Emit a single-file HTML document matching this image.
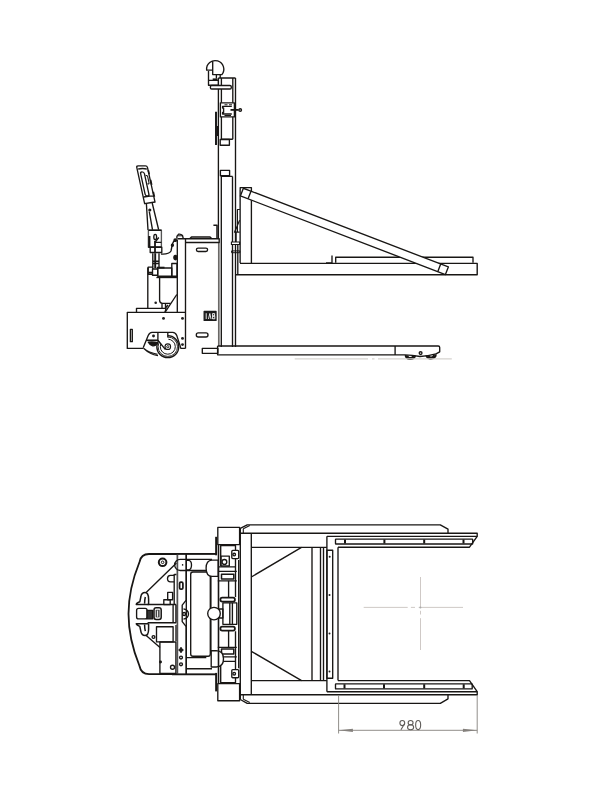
<!DOCTYPE html>
<html><head><meta charset="utf-8">
<style>
html,body{margin:0;padding:0;background:#fff;}
body{width:612px;height:792px;overflow:hidden;}
svg{display:block;}
</style></head>
<body>
<svg width="612" height="792" viewBox="0 0 612 792">
<rect width="612" height="792" fill="#fff"/>
<g fill="none" stroke="#181614" stroke-width="1.35" stroke-linejoin="round" stroke-linecap="butt">
<!-- ===== TOP DRAWING ===== -->
<!-- mast outer -->
<path d="M218.4,78 V238.7 M235.5,78 V347 M218.4,78 H235.5"/>
<path d="M218.8,242.5 V346" stroke="#6a6866" stroke-width="1.7"/>
<!-- upper inner tube -->
<path d="M221.4,78 V139.2 M232.8,78 V139.2 M221.4,139.2 H232.8"/>
<rect x="220.2" y="139.5" width="9.2" height="5.7"/>
<rect x="220.4" y="170.4" width="9.2" height="5.4"/>
<path d="M220.8,176.4 H232.6 M221.3,176.4 V347 M232.5,176.4 V347"/>
<!-- head knob -->
<path d="M212.7,61 V74.6 H221.9 A8.6,8.6 0 1 0 206.65,70.1 H212.7"/>
<path d="M208.5,71 V80.3 M216.4,74.6 V78.5 M220.2,74.6 V78"/>
<path d="M212.7,79.5 H217.5" stroke-width="2.2"/>
<rect x="208.5" y="80.3" width="9.8" height="4.9" fill="#fff"/>
<rect x="210.4" y="85.5" width="20.9" height="3.5" rx="1.3" fill="#fff"/>
<!-- carriage box on mast -->
<rect x="220.4" y="102.8" width="14" height="14.1" fill="#fff"/>
<path d="M231.8,106.4 H222.6 V108 H223.6 V112.5 H222.6 V114 H231.8"/>
<path d="M224.5,104.8 H227.5 M229,104.8 H232 M224.5,115.5 H231" stroke-width="1"/>
<path d="M230.5,109.9 H238.6" stroke-width="1.8"/>
<circle cx="240.2" cy="110" r="1.3"/>
<path d="M216,111.8 V145" stroke-width="1.9" stroke="#111"/>
<path d="M217.5,126 V136"/>
<!-- backrest -->
<path d="M240.2,263 V187.6 H251.4 V263.6"/>
<path d="M240.4,190 V263" stroke-width="1.2" stroke="#444"/>
<path d="M237.8,242 V275"/>
<path d="M237.4,232.2 V209.5 H239.9 M239.6,220.2 L234.5,232.2 H239.6 M236.1,232.2 V242" stroke-width="1.2"/>
<rect x="231.4" y="242" width="8.2" height="2.5" stroke-width="1.1" fill="#fff"/>
<rect x="231.6" y="250.9" width="8.2" height="1.8" stroke-width="1"/>
<!-- fork + plate -->
<path d="M240,263.4 H477.2 V274.8 H236" stroke-width="1.4"/>
<path d="M326,262.8 H332 V255.6 M335.7,262.8 V257.2 H473 V262.8"/>
<!-- diagonal bar -->
<path d="M243.35,188.25 L448.35,266.95 L445.4,274.6 L240.4,195.9 Z" fill="#fff"/>
<path d="M251,191.2 L248.05,198.85 M440.7,264 L437.75,271.65"/>
<!-- battery box -->
<path d="M185.5,348.4 V238.7 M177.5,238.7 H219.2 V242.5 H185.5"/>
<path d="M190,238.5 L191.5,236.9 H210 L211.5,238.5" stroke-width="1.5"/>
<path d="M213.4,225.2 H217 V238.7" stroke-width="1.5"/>
<rect x="196.4" y="248.1" width="11.2" height="3.4" rx="1.7"/>
<rect x="196.3" y="332.9" width="11.7" height="4.1" rx="2"/>
<rect x="204.2" y="311.3" width="11.8" height="9.1" fill="#1c1c1c" stroke="#1c1c1c"/>
<path d="M206.2,313.2 V319 M208.5,319 L209.8,313.5 L211,319 M212.6,313.5 V319 M212.6,313.6 H214.6 V316 H212.6 M212.6,316.2 H214.8 V318.8 H212.6" stroke="#fff" stroke-width="0.9"/>
<rect x="202.3" y="348.4" width="15.6" height="4.9"/>
<!-- fork leg -->
<path d="M217.6,346 H438.2 Q439.7,346 439.7,347.5 V351.8 L436,353.8 M217.6,346 V354.8 H405 M395.1,346 V354.8"/>
<path d="M405,354.8 Q412,355 420,356.5 Q428,355.8 436,353.8"/>
<path d="M405.6,355 A4.8,3.9 0 0 0 415.2,355.6 M407.5,355.3 A2.9,2.4 0 0 0 413.3,355.7 M426.2,355.3 A4.8,3.9 0 0 0 435.8,354.3 M428.1,355.3 A2.9,2.4 0 0 0 433.9,354.5" stroke-width="1.8"/>
<circle cx="420.6" cy="353.1" r="1.4"/>
<path d="M294.7,358.8 H368 M372,358.8 H374.5 M378,358.8 H451.8" stroke="#d6d3d0"/>
<!-- chassis -->
<path d="M185.5,312.3 H127.3 V348.4 H143.3 M180.8,348.4 H185.5"/>
<path d="M136.5,312.3 V308.3 H166 L165,312.3"/>
<path d="M165,312.3 L176.8,294.5"/>
<rect x="130.4" y="329.4" width="1.9" height="12.3"/>
<path d="M147.8,267.5 V308.3 M177.3,239.4 V312.3"/>
<path d="M159.6,277.8 V300.3 Q159.6,303.3 162.6,303.3 H170.6"/>
<path d="M162,303.3 V308 M165.5,303.3 V308 L168,305"/>
<rect x="148.2" y="267.1" width="4.6" height="7.1"/>
<path d="M148.2,272.6 H152.5" stroke-width="1.8"/>
<rect x="152.5" y="269" width="5.2" height="6.2" fill="#fff"/>
<rect x="157.7" y="268" width="14.1" height="8.2"/>
<path d="M156.7,267.6 H164.5" stroke-width="1.8"/>
<rect x="171.8" y="263.5" width="5.2" height="12.7"/>
<path d="M156.4,277.5 H177"/>
<ellipse cx="175.4" cy="257.6" rx="1.5" ry="2.1" fill="#181614"/>
<!-- caster wheel -->
<path d="M142.9,347.6 Q149,352.8 157.6,354.2 M143.8,348.6 Q149.5,354.2 158,355.6" stroke-width="1.1"/>
<path d="M146.1,340.25 H158.6" stroke-width="1.6"/>
<path d="M148.3,342.2 Q153,341.6 157.8,342.6 Q155.5,346.2 152.7,345.8 Q150,345.2 148.3,342.2 Z" fill="#181614"/>
<circle cx="167.8" cy="346.7" r="11" stroke-width="1.3" fill="#fff"/>
<circle cx="167.8" cy="346.7" r="9.7" stroke-width="0.9"/>
<circle cx="167.8" cy="346.7" r="7.5" stroke-width="1"/>
<path d="M157.6,332.35 H167.8 V337.5 L169.5,343 L165,349 L157.6,339 Z" fill="#fff" stroke="none"/>
<path d="M157.9,332.35 V340.25 L165.5,349.6 M167.8,332.35 V337.5"/>
<circle cx="167.8" cy="346.7" r="2.8" stroke-width="1.1" fill="#fff"/>
<circle cx="167.8" cy="346.7" r="1.1" stroke-width="0.9"/>
<path d="M143.3,347.5 L148.2,335.6 Q149.5,332.35 152,332.35 H172.7 Q175.5,332.35 176.8,335.6 L180,345.4 L180.8,348.7"/>
<!-- handle -->
<g transform="translate(141.7,165.8) skewX(12.3)">
<path d="M-5.3,1.8 Q-5.3,0 -3.5,0 H3.8 Q5.4,0 5.4,1.8 V36.2 L-5.3,37.9 Z"/>
<path d="M-4.3,3.3 Q0,2.2 4.4,3.2"/>
<path d="M-2.8,8 Q-2.8,6 -0.9,6 Q1,6 1,8 V28.5 Q1,30.3 -0.9,30.3 Q-2.8,30.3 -2.8,28.5 Z"/>
<path d="M1.8,10 Q3.5,9 3.6,11 V17 Q3.5,18.5 1.8,18" stroke-width="1.1"/>
<path d="M5.6,4.5 V8.5 M5.8,14 V19 M5.9,26 V31" stroke-width="1.7"/>
<path d="M-5,31.2 L1.5,30.3 H5.4"/>
</g>
<path d="M146.4,203.8 L148,230 M152.2,203 L158.7,230 M149.3,211.6 L152.6,230.4"/>
<circle cx="149.8" cy="210" r="0.9" fill="#1e1e1e"/>
<rect x="148.4" y="230.2" width="13" height="17" stroke="#555"/>
<path d="M148.4,230.2 H161.4 M148.4,247.2 H161.4"/>
<path d="M149.3,236 V247" stroke-width="2.2"/>
<ellipse cx="155.2" cy="237" rx="1.4" ry="2.7"/>
<path d="M158.8,237.5 L154.8,242.5 M155,242.3 H161.4"/>
<path d="M155,241 V253.3" stroke-width="1.8"/>
<rect x="150.2" y="247.2" width="11.6" height="5.3"/>
<path d="M152.8,253.3 V267.1 M159,253.3 V268 M152.3,261.2 H159.5 M152.3,263.5 H159.5"/>
<path d="M155.2,253.3 V268" stroke-width="1.9"/>
<path d="M161,254 Q169,254.5 171,251 L172.4,244 Q173,241 176,239.8"/>
<circle cx="175.2" cy="240.2" r="1.2" fill="#1e1e1e"/>
<circle cx="172.4" cy="245.2" r="1" fill="#1e1e1e"/>
<path d="M176.8,238.7 Q176.5,235.5 178.5,234.2 Q181,233.8 182.5,235.5 L183.3,238.7"/>
<path d="M177.5,235.8 H182" stroke-width="1"/>
<!-- dots -->
<g fill="#1e1e1e" stroke="none">
<circle cx="155.7" cy="302.8" r="1.3"/>
<circle cx="163.5" cy="318.4" r="1.45"/>
<circle cx="182.5" cy="318.4" r="1.45"/>
<circle cx="153.5" cy="336" r="1.45"/>
<circle cx="182.5" cy="338.4" r="1.45"/>
<circle cx="182.5" cy="344.6" r="1.45"/>
</g>
<!-- ===== BOTTOM DRAWING ===== -->
<!-- shell -->
<path d="M177.5,554 H149 Q141,554 139.5,562 C133,578 128.5,596 128.5,613.8 C128.5,632 133,650 139.5,666 Q141,674 149,674.2 H177.5" stroke-width="1.8"/>
<path d="M177.5,553.3 V674.3 M186.3,554 V674.3 M177.5,554.1 H216.4 M177.5,674.1 H216.4"/>
<path d="M176.5,563 L145.6,593 M145.6,635 L160,647.5"/>
<circle cx="162.6" cy="562.3" r="3.8" stroke-width="2"/>
<circle cx="162.6" cy="562.3" r="1.3" stroke-width="1"/>
<!-- control piece -->
<path d="M147.6,604.5 H176 M147.6,622.8 H176 M176,604.5 V622.8" stroke-width="1.5"/>
<rect x="156.5" y="626.7" width="16.6" height="15.2"/>
<rect x="159.9" y="642" width="16" height="31.5"/>
<rect x="167.7" y="592.4" width="4.9" height="7.3"/>
<rect x="163.8" y="599.7" width="6.4" height="4.9"/>
<path d="M148.6,604.5 V599 Q148.5,592.6 145,592.6 Q141.5,592.6 140.8,597 L139.8,601.8 Q136.5,603 136.3,604.5 H148.6 M145.3,597 Q144.6,600 144.6,603.5" stroke-width="1.5"/>
<path d="M148.6,623.7 V629.2 Q148.5,635.6 145,635.6 Q141.5,635.6 140.8,631.2 L139.8,626.4 Q136.5,625.2 136.3,623.7 H148.6 M145.3,631.2 Q144.6,628.2 144.6,624.7" stroke-width="1.5"/>
<rect x="136.6" y="608.4" width="10.5" height="10.5" rx="2"/>
<rect x="147.1" y="610.3" width="5.6" height="8.6" fill="#333"/>
<rect x="154" y="607.7" width="7.2" height="11.8" rx="2.2" stroke-width="1.5"/>
<rect x="155.6" y="609.8" width="4" height="7.6" fill="#444" stroke="none"/>
<path d="M157.6,610.5 V616.8" stroke="#fff" stroke-width="1"/>
<path d="M173.1,605 V622.7"/>
<circle cx="153.5" cy="637" r="1.4"/>
<circle cx="172.5" cy="667.2" r="2"/>
<circle cx="160.5" cy="662" r="0.8"/>
<path d="M183.5,609 A5,5 0 0 1 183.5,619"/>
<circle cx="184.1" cy="614" r="1.5"/>
<rect x="179.6" y="582.2" width="3.3" height="7" rx="1.3" stroke-width="1.7"/>
<circle cx="181" cy="650" r="1.3"/>
<path d="M178.5,650 H183.5 M181,647 V653"/>
<circle cx="181" cy="657.5" r="1.45"/>
<circle cx="181" cy="664.3" r="1.45"/>
<path d="M174.2,574 V605 M176,625 V641"/>
<path d="M176.5,574.5 H174.2 M174.2,575.4 H170.5 Q167.5,575.5 167.5,578.5 Q167.5,581.8 170.5,581.8 H174.2"/>
<!-- rounded bars / mechanism (mirrored) -->
<path d="M177.3,553.3 V674.3" stroke="#555" stroke-width="1.3"/>
<path d="M186.2,554 V600.1 L182.2,605.2 V621.6 L186.2,626.6 V674.3"/>
<rect x="190.7" y="572" width="19.6" height="84.2" rx="2.2"/>
<path d="M210.9,574 V654"/>
<g>
<path d="M172,553.7 H216.1"/>
<path d="M212,559.4 H186.2 M186.2,570.5 H206.3"/>
<rect x="217.8" y="527.4" width="21.8" height="17.2"/>
<path d="M216.1,536.8 V555.3" stroke-width="1.9"/>
<path d="M220.7,566 V545.5 H235.5 V550.4"/>
<rect x="231.8" y="550.4" width="6.9" height="8.2" rx="1"/>
<circle cx="234.2" cy="554.5" r="1.3"/>
<path d="M217.8,566.8 H235.5 M217.8,571.3 H236.8 M217.8,580.8 H236.8"/>
<rect x="221.5" y="574.2" width="12.3" height="4.9" stroke-width="1.5"/>
<path d="M235.5,558.6 V597 M238.7,560 V614.1 M228.6,580.8 V597.6"/>
<rect x="220.4" y="597.6" width="14.5" height="4" rx="1.8" stroke-width="1.8"/>
</g>
<g transform="matrix(1,0,0,-1,0,1228.2)">
<path d="M172,553.7 H216.1"/>
<path d="M212,559.4 H186.2 M186.2,570.5 H206.3"/>
<rect x="217.8" y="527.4" width="21.8" height="17.2"/>
<path d="M216.1,536.8 V555.3" stroke-width="1.9"/>
<path d="M220.7,566 V545.5 H235.5 V550.4"/>
<rect x="231.8" y="550.4" width="6.9" height="8.2" rx="1"/>
<circle cx="234.2" cy="554.5" r="1.3"/>
<path d="M217.8,566.8 H235.5 M217.8,571.3 H236.8 M217.8,580.8 H236.8"/>
<rect x="221.5" y="574.2" width="12.3" height="4.9" stroke-width="1.5"/>
<path d="M235.5,558.6 V597 M238.7,560 V614.1 M228.6,580.8 V597.6"/>
<rect x="220.4" y="597.6" width="14.5" height="4" rx="1.8" stroke-width="1.8"/>
</g>
<path d="M218.2,560.1 H212 Q206.1,560.3 206.1,568.2 Q206.1,576.1 212,576.3 H218.2 Z" fill="#fff"/>
<rect x="221" y="556.1" width="8.3" height="9.9"/>
<circle cx="224.4" cy="561.9" r="2.4"/>
<path d="M211.2,650.7 H216.2 Q223.5,650.9 223.5,658.8 Q223.5,666.8 216.2,667 H211.2 Z" fill="#fff"/>
<path d="M186.2,559.4 H180.2 A5.55,5.55 0 0 0 180.2,570.5 H186.2"/>
<path d="M186.3,560.3 H188.5 Q191.5,560.5 191.5,565 Q191.5,569.5 188.5,570 H186.3"/>
<circle cx="182.6" cy="564.9" r="0.8" fill="#181614" stroke="none"/>
<path d="M218.5,544.6 V683.6" stroke-width="1.6"/>
<rect x="222.9" y="602.9" width="13.9" height="21.4"/>
<path d="M229.8,602.9 V624.3 M232.4,602.9 V624.3"/>
<rect x="219.5" y="609" width="3.4" height="9"/>
<circle cx="214" cy="613.6" r="6.3" fill="#fff"/>
<!-- frame -->
<path d="M240.3,699.5 V528.3 L247.2,524.9 H440.3 L448,529.2 V533.2"/>
<path d="M240.3,699.5 L247.2,703.3 H440.3 L448,698.8 V694.7"/>
<path d="M243.3,528.8 V533.4 M243.3,694.6 V699.3 M243.3,528.8 L249.8,525.6 M243.3,699.3 L249.8,702.6" stroke-width="1.1"/>
<path d="M240.4,533.2 H477.2 V536.4 L469.5,547.2 H338 M240.4,694.7 H477.2 V691.6 L469.5,680.6 H338"/>
<path d="M251.3,533.2 V694.7 M251.3,547.4 H326.9 M251.3,680.6 H326.9"/>
<path d="M251.3,577 L301.5,547.4 M251.3,651.3 L301.6,680.6"/>
<path d="M312,547.4 V680.6 M320.5,547.4 V680.6 M323.5,547.4 V680.6"/>
<path d="M326.9,536.3 H477.2 M326.9,691.7 H477.2 M326.9,536.3 V691.7 M338,547.2 V680.6"/>
<rect x="335.5" y="539.1" width="137.2" height="4.9" rx="0.5"/>
<rect x="335.5" y="683.8" width="136.7" height="5.1" rx="0.5"/>
<rect x="326.9" y="550.2" width="5.8" height="128"/>
<g stroke-width="2">
<path d="M345,539.5 V543.5 M384.4,539.5 V543.5 M424.2,539.5 V543.5 M463.5,539.5 V543.5"/>
<path d="M344.5,684.3 V688.4 M384,684.3 V688.4 M424.2,684.3 V688.4 M463.7,684.3 V688.4"/>
</g>
<g fill="#1e1e1e" stroke="none">
<circle cx="329.7" cy="556.7" r="1"/>
<circle cx="329.5" cy="595" r="1"/>
<circle cx="329.5" cy="633.4" r="1"/>
<circle cx="329.5" cy="671.5" r="1"/>
</g>
<!-- crosshair -->
<g stroke="#c9c3bf" stroke-width="0.9">
<path d="M363.7,607.4 H407.7 M410.9,607.4 H415 M418.7,607.4 H463"/>
<path d="M420.5,577 V607.4 M420.5,610.8 V614.5 M420.5,618.2 V650"/>
</g>
<circle cx="420.4" cy="607.4" r="1" fill="#aaa" stroke="none"/>
<!-- dimension -->
<g stroke="#85817d" stroke-width="0.9">
<path d="M338.6,695 V733.5 M477.2,695 V733.5 M338.6,730.3 H477.2"/>
</g>
<path d="M338.6,730.3 L352.9,728.7 V731.9 Z M477.2,730.3 L462.9,728.7 V731.9 Z" fill="#85817d" stroke="none"/>
<g stroke="#5f5c59" stroke-width="1.1" fill="none" transform="translate(0,0.5)">
<ellipse cx="402.3" cy="722.6" rx="2.4" ry="2.55"/>
<path d="M404.6,723.2 L400.9,729.2"/>
<ellipse cx="410.6" cy="722.2" rx="2.45" ry="2.15"/>
<ellipse cx="410.6" cy="726.75" rx="3.05" ry="2.45"/>
<ellipse cx="418.15" cy="724.6" rx="2.5" ry="4.55"/>
</g>
</g>
</svg>
</body></html>
